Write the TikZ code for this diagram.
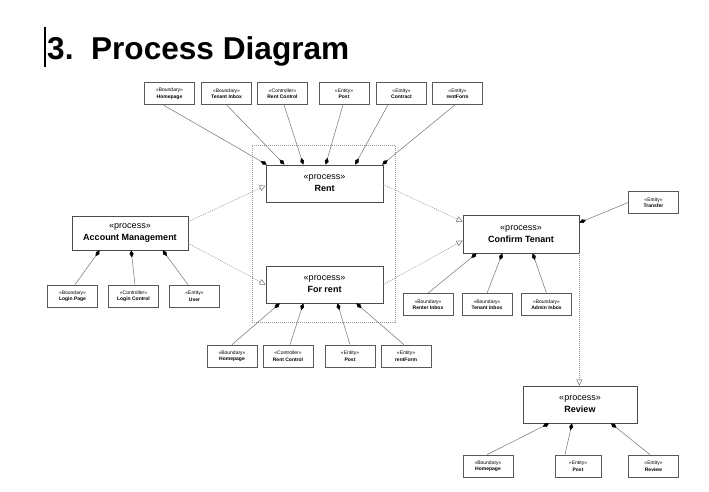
\documentclass[tikz,border=0pt]{standalone}
\usepackage{fontspec}
\setmainfont{Liberation Sans}
\usetikzlibrary{arrows.meta,calc}
\begin{document}
\begin{tikzpicture}[x=1pt,y=-1pt,
  sbox/.style={draw=black!65, line width=0.7pt, minimum width=50pt, minimum height=22pt, inner sep=0pt, align=center, font=\fontsize{5}{6.5}\selectfont},
  pbox/.style={draw=black!70, line width=0.8pt, minimum width=116pt, minimum height=37pt, inner sep=0pt, align=center, font=\fontsize{9}{12}\selectfont},
  comp/.style={draw=black!55, line width=0.5pt, -{Diamond[length=7pt,width=4pt,color=black]}},
  real/.style={draw=black!45, line width=0.5pt, dash pattern=on 1pt off 1pt, -{Triangle[open,length=6pt,width=6pt,fill=white,color=black!55]}},
  grp/.style={draw=black!40, line width=0.6pt, dash pattern=on 1pt off 1pt, inner sep=0pt}
]
\useasboundingbox (0,0) rectangle (709,492);
\fill[white] (0,0) rectangle (709,492);

% title and cursor bar
\coordinate (c1) at (45,27);
\coordinate (c2) at (45,67);
\draw[line width=1.5pt] (c1) -- (c2);
\node[anchor=base west, inner sep=0pt, font=\fontsize{31.6}{36}\selectfont\bfseries] (title) at (47,60) {3.~~Process Diagram};

% group region
\node[grp, minimum width=143pt, minimum height=177pt] (grp) at (323.5,233.5) {};

% process boxes
\node[pbox, minimum width=117pt] (rent) at (324.5,183.5) {«process»\\\textbf{Rent}};
\node[pbox, minimum width=117pt] (forrent) at (324.5,284.5) {«process»\\\textbf{For rent}};
\node[pbox, minimum height=34pt] (acct) at (130,233) {«process»\\\textbf{Account Management}};
\node[pbox, minimum height=38pt] (conf) at (521,234) {«process»\\\textbf{Confirm Tenant}};
\node[pbox, minimum width=114pt] (rev) at (580,404.5) {«process»\\\textbf{Review}};

% top row (Rent)
\node[sbox] (hp) at (169.5,93.5) {«Boundary»\\\textbf{Homepage}};
\node[sbox] (ti) at (226.5,93.5) {«Boundary»\\\textbf{Tenant Inbox}};
\node[sbox] (rc) at (282.5,93.5) {«Controller»\\\textbf{Rent Control}};
\node[sbox] (po) at (344,93.5) {«Entity»\\\textbf{Post}};
\node[sbox] (co) at (401.5,93.5) {«Entity»\\\textbf{Contract}};
\node[sbox] (rf) at (457.5,93.5) {«Entity»\\\textbf{rentForm}};

% account row
\node[sbox] (lp) at (72.5,296) {«Boundary»\\\textbf{Login Page}};
\node[sbox] (lc) at (133.5,296) {«Controller»\\\textbf{Login Control}};
\node[sbox] (us) at (194.5,296) {«Entity»\\\textbf{User}};

% confirm tenant row
\node[sbox] (ri) at (428,304.5) {«Boundary»\\\textbf{Renter Inbox}};
\node[sbox] (tib) at (487,304.5) {«Boundary»\\\textbf{Tenant Inbox}};
\node[sbox] (ai) at (546.5,304.5) {«Boundary»\\\textbf{Admin Inbox}};
\node[sbox] (tr) at (653.5,202.5) {«Entity»\\\textbf{Transfer}};

% for rent row
\node[sbox] (hp2) at (232,356) {«Boundary»\\\textbf{Homepage}};
\node[sbox] (rc2) at (288,356) {«Controller»\\\textbf{Rent Control}};
\node[sbox] (po2) at (350,356) {«Entity»\\\textbf{Post}};
\node[sbox] (rf2) at (406,356) {«Entity»\\\textbf{rentForm}};

% review row
\node[sbox] (hp3) at (488,466) {«Boundary»\\\textbf{Homepage}};
\node[sbox, minimum width=46pt] (po3) at (578,466) {«Entity»\\\textbf{Post}};
\node[sbox] (rv) at (653.5,466) {«Entity»\\\textbf{Review}};

% composition connectors to Rent
\draw[comp] ([xshift=-6.5pt]hp.south) -- ($(rent.north west)!0.01!(rent.north east)$);
\draw[comp] (ti.south) -- ($(rent.north west)!0.16!(rent.north east)$);
\draw[comp] ([xshift=1.5pt]rc.south) -- ($(rent.north west)!0.32!(rent.north east)$);
\draw[comp] ([xshift=-1pt]po.south) -- ($(rent.north west)!0.51!(rent.north east)$);
\draw[comp] ([xshift=-13.5pt]co.south) -- ($(rent.north west)!0.76!(rent.north east)$);
\draw[comp] ([xshift=-2.5pt]rf.south) -- ($(rent.north west)!0.99!(rent.north east)$);

% to Account Management
\draw[comp] ([xshift=2.5pt]lp.north) -- ($(acct.south west)!0.24!(acct.south east)$);
\draw[comp] ([xshift=1.5pt]lc.north) -- ($(acct.south west)!0.51!(acct.south east)$);
\draw[comp] ([xshift=-6.5pt]us.north) -- ($(acct.south west)!0.78!(acct.south east)$);

% to Confirm Tenant
\draw[comp] (ri.north) -- ($(conf.south west)!0.12!(conf.south east)$);
\draw[comp] (tib.north) -- ($(conf.south west)!0.34!(conf.south east)$);
\draw[comp] (ai.north) -- ($(conf.south west)!0.60!(conf.south east)$);
\draw[comp] (tr.west) -- ($(conf.north east)+(0,8)$);

% to For rent
\draw[comp] (hp2.north) -- ($(forrent.south west)!0.12!(forrent.south east)$);
\draw[comp] ([xshift=2pt]rc2.north) -- ($(forrent.south west)!0.32!(forrent.south east)$);
\draw[comp] (po2.north) -- ($(forrent.south west)!0.61!(forrent.south east)$);
\draw[comp] ([xshift=-2pt]rf2.north) -- ($(forrent.south west)!0.77!(forrent.south east)$);

% to Review
\draw[comp] ([xshift=-1pt]hp3.north) -- ($(rev.south west)!0.23!(rev.south east)$);
\draw[comp] ([xshift=-13pt]po3.north) -- ($(rev.south west)!0.43!(rev.south east)$);
\draw[comp] ([xshift=-3.5pt]rv.north) -- ($(rev.south west)!0.77!(rev.south east)$);

% dashed realisation connectors
\draw[real] ($(acct.north east)+(0,6)$) -- ($(rent.north west)+(0,21)$);
\draw[real] ($(acct.south east)+(0,-7)$) -- ($(forrent.north west)+(0,19)$);
\draw[real] ($(rent.north east)+(0,20)$) -- ($(conf.north west)+(0,7)$);
\draw[real] ($(forrent.north east)+(0,19)$) -- ($(conf.north west)+(0,26)$);
\draw[real] (conf.south east) -- (conf.south east |- rev.north);
\end{tikzpicture}
\end{document}
